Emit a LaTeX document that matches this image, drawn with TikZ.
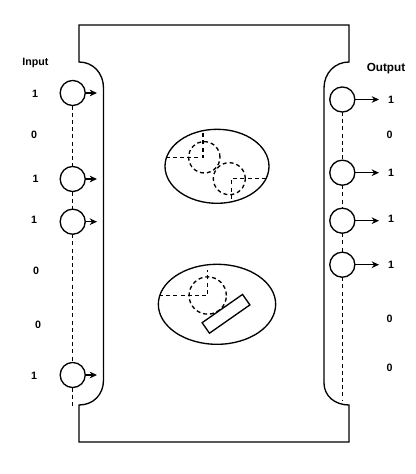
\documentclass[tikz,border=0pt]{standalone}
\usepackage{fontspec}
\setmainfont{Liberation Sans}
\usetikzlibrary{shapes.geometric, arrows.meta, positioning}

\begin{document}
\begin{tikzpicture}[x=0.75pt, y=-0.75pt, line width=1pt,
    port/.style={draw, circle, minimum size=18.8pt, inner sep=0pt, outer sep=0pt},
    bitlabel/.style={font=\fontsize{8}{10}\selectfont\bfseries, inner sep=0pt},
    dashline/.style={line width=1.1pt, dash pattern=on 3pt off 2.4pt},
    pointer/.style={-{Stealth[length=5.5pt, width=5pt]}},
    cellshape/.style={draw, ellipse, inner sep=0pt, outer sep=0pt},
    holeshape/.style={draw, circle, inner sep=0pt, outer sep=0pt, dash pattern=on 3pt off 2.2pt}]
    \useasboundingbox (0, 0) rectangle (415, 474);

    % Outer outline
    \draw (79, 25) -- (349, 25) -- (349, 62)
        .. controls (335, 62) and (324, 73) .. (324, 88)
        -- (324, 383)
        .. controls (324, 396) and (335, 405) .. (349, 405)
        -- (349, 442) -- (79, 442) -- (79, 405)
        .. controls (93, 405) and (103.5, 395) .. (103.5, 380)
        -- (103.5, 88)
        .. controls (103.5, 73) and (93, 62) .. (79, 62) -- cycle;

    % Input side
    \node[bitlabel] (inputtitle) at (35.5, 63) {Input};
    \node[port] (in1) at (72.7, 93) {};
    \node[port] (in2) at (72.7, 179) {};
    \node[port] (in3) at (72.7, 221.7) {};
    \node[port] (in4) at (72.7, 375) {};
    \coordinate (inend) at (72.7, 406);
    \coordinate (inout1) at (97, 93);
    \coordinate (inout2) at (97, 179);
    \coordinate (inout3) at (97, 221.7);
    \coordinate (inout4) at (97, 375);
    \draw[dashline] (in1.south) -- (in2.north);
    \draw[dashline] (in2.south) -- (in3.north);
    \draw[dashline] (in3.south) -- (in4.north);
    \draw[dashline] (in4.south) -- (inend);
    \draw[pointer] (in1.east) -- (inout1);
    \draw[pointer] (in2.east) -- (inout2);
    \draw[pointer] (in3.east) -- (inout3);
    \draw[pointer] (in4.east) -- (inout4);
    \node[bitlabel] (inbit1) at (35, 93.5) {1};
    \node[bitlabel] (inbit2) at (34, 135) {0};
    \node[bitlabel] (inbit3) at (35.5, 179) {1};
    \node[bitlabel] (inbit4) at (34, 220) {1};
    \node[bitlabel] (inbit5) at (36, 271) {0};
    \node[bitlabel] (inbit6) at (38, 325) {0};
    \node[bitlabel] (inbit7) at (34, 376) {1};

    % Output side
    \node[bitlabel, font=\fontsize{8.8}{10}\selectfont\bfseries] (outputtitle) at (386, 69) {Output};
    \node[port] (out1) at (342.3, 99.5) {};
    \node[port] (out2) at (342.3, 172.7) {};
    \node[port] (out3) at (342.3, 220.7) {};
    \node[port] (out4) at (342.3, 264.7) {};
    \coordinate (outend) at (342.3, 400);
    \coordinate (outarrow1) at (379, 99.5);
    \coordinate (outarrow2) at (379, 172.7);
    \coordinate (outarrow3) at (379, 220.7);
    \coordinate (outarrow4) at (379, 264.7);
    \draw[dashline] (out1.south) -- (out2.north);
    \draw[dashline] (out2.south) -- (out3.north);
    \draw[dashline] (out3.south) -- (out4.north);
    \draw[dashline] (out4.south) -- (outend);
    \draw[pointer] (out1.east) -- (outarrow1);
    \draw[pointer] (out2.east) -- (outarrow2);
    \draw[pointer] (out3.east) -- (outarrow3);
    \draw[pointer] (out4.east) -- (outarrow4);
    \node[bitlabel] (outbit1) at (391, 99.5) {1};
    \node[bitlabel] (outbit2) at (389.5, 135) {0};
    \node[bitlabel] (outbit3) at (391, 173) {1};
    \node[bitlabel] (outbit4) at (391, 219) {1};
    \node[bitlabel] (outbit5) at (391, 265) {1};
    \node[bitlabel] (outbit6) at (389.5, 319) {0};
    \node[bitlabel] (outbit7) at (389.5, 368) {0};

    % Upper cell with two holes
    \node[cellshape, minimum width=78pt, minimum height=55.5pt] (uppercell) at (217, 166.3) {};
    \node[holeshape, minimum size=23.5pt] (holeA) at (204.3, 157.3) {};
    \node[holeshape, minimum size=24pt] (holeB) at (229.3, 178.7) {};
    \coordinate (holeAleft) at (165.5, 157.3);
    \coordinate (holeAtop) at (203, 130.5);
    \coordinate (holeAcorner) at (203, 157.3);
    \coordinate (holeBright) at (266, 178.7);
    \coordinate (holeBbottom) at (231.7, 202);
    \coordinate (holeBcorner) at (231.7, 178.7);
    \draw[dashline] (holeAleft) -- (holeAcorner) -- (holeAtop);
    \draw[dashline] (holeBright) -- (holeBcorner) -- (holeBbottom);

    % Lower cell with one hole and a bar
    \node[cellshape, minimum width=88pt, minimum height=60pt] (lowercell) at (217, 304.3) {};
    \node[holeshape, minimum size=28pt] (holeC) at (207.7, 295.5) {};
    \coordinate (holeCleft) at (159, 295.5);
    \coordinate (holeCtop) at (207.7, 270);
    \coordinate (holeCcorner) at (207.7, 295.5);
    \draw[dashline] (holeCleft) -- (holeCcorner) -- (holeCtop);
    \node[draw, fill=white, rotate=35, minimum width=37pt, minimum height=9.6pt, inner sep=0pt, outer sep=0pt] (bar) at (226, 313.8) {};
\end{tikzpicture}
\end{document}
